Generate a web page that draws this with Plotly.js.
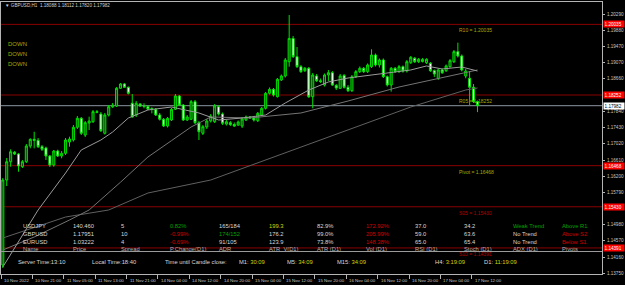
<!DOCTYPE html>
<html><head><meta charset="utf-8">
<script src="https://cdn.plot.ly/plotly-3.0.1.min.js"></script>
<style>html,body{margin:0;padding:0;background:#000;}#chart{width:625px;height:285px;}</style>
</head><body><div id="chart"></div>
<script>
// ---------- DATA ----------
const symbolTitle = "\u25BC GBPUSD,H1  1.18088 1.18112 1.17820 1.17982";
const openP = [1.13960,1.16106,1.16568,1.16805,1.16762,1.16442,1.16568,1.16964,1.17133,1.17108,1.16947,1.16914,1.16712,1.16485,1.16838,1.16712,1.16780,1.17065,1.17116,1.17437,1.17664,1.17242,1.17545,1.17578,1.17831,1.17772,1.17285,1.17747,1.17957,1.17974,1.18421,1.18530,1.18447,1.18043,1.17747,1.18025,1.17974,1.17962,1.17891,1.17891,1.17747,1.17639,1.17469,1.17621,1.17891,1.18227,1.17999,1.17621,1.17639,1.18083,1.17553,1.17285,1.17444,1.17596,1.17578,1.17957,1.17772,1.17520,1.17553,1.17507,1.17495,1.17469,1.17621,1.17697,1.17676,1.17603,1.17747,1.17916,1.18295,1.18396,1.18209,1.18631,1.18732,1.19093,1.19680,1.19219,1.18967,1.18866,1.18926,1.18209,1.18732,1.18613,1.18505,1.18757,1.18815,1.18492,1.18421,1.18745,1.18447,1.18361,1.18714,1.18841,1.18926,1.18841,1.18967,1.19262,1.19010,1.19136,1.18714,1.18505,1.18926,1.18841,1.18967,1.18858,1.19068,1.19179,1.19093,1.19098,1.19068,1.19053,1.18866,1.18674,1.18883,1.18866,1.18967,1.19093,1.19346,1.19237,1.18732,1.18674,1.18447,1.18088];
const highP = [1.16156,1.16661,1.16881,1.16838,1.16788,1.16611,1.17015,1.17159,1.17325,1.17166,1.16990,1.16947,1.16737,1.16864,1.16871,1.16838,1.17166,1.17199,1.17495,1.17722,1.17697,1.17596,1.17705,1.17873,1.17873,1.17823,1.17798,1.17999,1.18050,1.18454,1.18555,1.18555,1.18467,1.18277,1.18101,1.18050,1.18043,1.17999,1.17942,1.17924,1.17798,1.17671,1.17697,1.17924,1.18277,1.18252,1.18025,1.17747,1.18126,1.18126,1.17596,1.17495,1.17646,1.17772,1.18025,1.17987,1.17810,1.17621,1.17596,1.17558,1.17608,1.17697,1.17734,1.17722,1.17709,1.17823,1.17949,1.18328,1.18442,1.18429,1.18681,1.18770,1.19187,1.20272,1.19742,1.19464,1.19010,1.18959,1.18959,1.18808,1.18783,1.18669,1.18795,1.18883,1.18858,1.18530,1.18783,1.18783,1.18505,1.18757,1.18883,1.18972,1.18959,1.19048,1.19406,1.19300,1.19174,1.19174,1.18745,1.18959,1.18959,1.19010,1.18997,1.19136,1.19237,1.19212,1.19187,1.19187,1.19179,1.19085,1.18896,1.18921,1.18921,1.19022,1.19161,1.19388,1.19573,1.19275,1.18908,1.18858,1.18530,1.18112];
const lowP = [1.13884,1.15954,1.16442,1.16737,1.16315,1.16409,1.16535,1.16906,1.16906,1.16914,1.16838,1.16611,1.16434,1.16442,1.16687,1.16654,1.16737,1.16947,1.17078,1.17394,1.17242,1.17192,1.17368,1.17545,1.17790,1.17318,1.17255,1.17709,1.17924,1.17949,1.18404,1.18429,1.18265,1.17671,1.17697,1.17949,1.17916,1.17873,1.17790,1.17722,1.17608,1.17444,1.17432,1.17596,1.17873,1.17974,1.17596,1.17596,1.17621,1.17520,1.17116,1.17242,1.17394,1.17558,1.17545,1.17734,1.17495,1.17482,1.17469,1.17444,1.17469,1.17419,1.17596,1.17646,1.17583,1.17570,1.17722,1.17886,1.18265,1.18214,1.18189,1.18606,1.18694,1.18967,1.19187,1.18934,1.18808,1.18833,1.18176,1.17916,1.18580,1.18555,1.18467,1.18606,1.18480,1.18379,1.18404,1.18416,1.18328,1.18328,1.18681,1.18808,1.18808,1.18808,1.18934,1.18972,1.18947,1.18681,1.18467,1.18336,1.18808,1.18808,1.18815,1.18820,1.19035,1.19060,1.19060,1.19073,1.19035,1.18833,1.18707,1.18631,1.18783,1.18833,1.18947,1.19060,1.19199,1.18846,1.18674,1.17999,1.18050,1.17820];
const closeP = [1.16106,1.16568,1.16821,1.16762,1.16460,1.16568,1.16964,1.17133,1.17108,1.16947,1.16881,1.16712,1.16485,1.16838,1.16712,1.16780,1.17116,1.17141,1.17437,1.17664,1.17285,1.17553,1.17596,1.17831,1.17815,1.17351,1.17747,1.17957,1.17999,1.18421,1.18530,1.18447,1.18295,1.17704,1.18043,1.17974,1.17962,1.17891,1.17911,1.17747,1.17639,1.17469,1.17664,1.17891,1.18227,1.17999,1.17621,1.17697,1.18083,1.17553,1.17326,1.17452,1.17596,1.17722,1.17974,1.17772,1.17538,1.17578,1.17507,1.17469,1.17570,1.17646,1.17697,1.17676,1.17621,1.17790,1.17916,1.18295,1.18396,1.18252,1.18649,1.18732,1.19136,1.19680,1.19219,1.18967,1.18841,1.18926,1.18209,1.18757,1.18613,1.18593,1.18757,1.18815,1.18505,1.18429,1.18732,1.18447,1.18361,1.18714,1.18841,1.18926,1.18841,1.19010,1.19262,1.19010,1.19136,1.18714,1.18505,1.18926,1.18841,1.18967,1.18858,1.19093,1.19204,1.19093,1.19154,1.19149,1.19154,1.18866,1.18783,1.18883,1.18815,1.18985,1.19118,1.19346,1.19237,1.18883,1.18858,1.18447,1.18083,1.17982];

const timeTickBars = [0,8,16,24,32,40,48,56,64,72,80,88,96,104,112,120];
const timeTickLabels = ["10 Nov 2022","10 Nov 21:00","11 Nov 05:00","11 Nov 13:00","11 Nov 21:00","14 Nov 04:00","14 Nov 12:00","14 Nov 20:00","15 Nov 04:00","15 Nov 12:00","15 Nov 20:00","16 Nov 04:00","16 Nov 12:00","16 Nov 20:00","17 Nov 04:00","17 Nov 12:00"];
// visible price-scale labels (1.18250 and 1.15380 sit under the red level boxes)
const priceTicks = [1.20290,1.19880,1.19470,1.19070,1.18660,1.17840,1.17430,1.17020,1.16610,1.16200,1.15790,1.14980,1.14570,1.14160,1.13750];

// moving averages (bar index, price)
const maFastBars = [0,9,16,20,25,28,32,37,43,50,55,61,67,72,78,83,88,104,108,112,117,121];
const maFast = [1.13909,1.15349,1.16283,1.16864,1.17116,1.17318,1.17671,1.17874,1.17949,1.17798,1.17621,1.17671,1.17747,1.18050,1.18378,1.18581,1.18681,1.18884,1.18985,1.18909,1.18959,1.18858];
const maMidBars = [0,8,17,22,30,37,43,48,53,63,76,88,101,121];
const maMid = [1.14339,1.14667,1.15096,1.15349,1.16050,1.16687,1.17100,1.17444,1.17697,1.17672,1.17798,1.18100,1.18454,1.18884];
const maSlowBars = [0,16,27,37,53,70,88,104,118,121];
const maSlow = [1.14642,1.15172,1.15349,1.15778,1.16106,1.16720,1.17369,1.17949,1.18378,1.18429];

const levelNames = ["R10","R05","Pivot","S05","S10"];
const levelValues = [1.20035,1.18252,1.16468,1.15430,1.14391];
const currentPrice = 1.17982;
const signals = ["DOWN","DOWN","DOWN"];

const tableHeader = ["Name","Price","Spread","P.Change(D1)","ADR","ATR_V(D1)","ATR (D1)","Vol (D1)","RSI (D1)","Stoch (D1)","ADX (D1)","Pivots"];
const rowUSDJPY = ["USDJPY","140.460","5","0.82%","165/184","199.3","82.9%","172.92%","37.0","34.2","Weak Trend","Above R1"];
const rowGBPUSD = ["GBPUSD","1.17951","10","-0.99%","174/152","176.2","99.0%","205.99%","59.0","63.6","No Trend","Above S2"];
const rowEURUSD = ["EURUSD","1.03222","4","-0.69%","91/105","123.9","73.8%","148.38%","65.0","65.4","No Trend","Below S1"];
const timerLabels = ["Server Time:","Local Time:","Time until Candle close:","M1:","M5:","M15:","H4:","D1:"];
const timerValues = ["13:10","18:40","","30:09","34:09","34:09","3:19:09","11:19:09"];

// ---------- STYLE / LAYOUT ----------
const W='#d8d8d8', G='#00a000', R='#d00000', Y='#d4d400', H='#b0b0b0', OL='#a8a800';
const rowColors = [
  [W,W,W,G,W,Y,W,R,W,W,G,G],
  [W,W,W,R,G,W,W,R,W,W,W,R],
  [W,W,W,R,W,W,W,R,W,W,W,R]
];
const PL=1, PT=2, PW=601, PH=272;
const px2x = p => (p-PL)/PW;
const py2y = p => (PT+PH-p)/PH;
const FONT = 'Liberation Sans, Arial, sans-serif';

const idx = openP.map((_,i)=>i);
const traces = [
  {type:'scatter', mode:'lines', x:maSlowBars, y:maSlow, line:{color:'#606060', width:1}, hoverinfo:'skip', showlegend:false},
  {type:'scatter', mode:'lines', x:maMidBars, y:maMid, line:{color:'#747474', width:1}, hoverinfo:'skip', showlegend:false},
  {type:'scatter', mode:'lines', x:maFastBars, y:maFast, line:{color:'#9a9a9a', width:1}, hoverinfo:'skip', showlegend:false},
  {type:'candlestick', x:idx, open:openP, high:highP, low:lowP, close:closeP, whiskerwidth:0,
   increasing:{line:{color:'#00e000', width:1}, fillcolor:'#0b4d0b'},
   decreasing:{line:{color:'#00e000', width:1}, fillcolor:'#ffffff'},
   hoverinfo:'skip', showlegend:false}
];

const shapes = [];
const annotations = [];
levelValues.forEach((v,i)=>{
  shapes.push({type:'line', xref:'paper', x0:0, x1:1, yref:'y', y0:v, y1:v, line:{color:'#8a0000', width:1}, layer:'below'});
  annotations.push({xref:'paper', x:1, xanchor:'left', xshift:1, yref:'y', y:v, yanchor:'middle',
    text:v.toFixed(5), showarrow:false, bgcolor:'#ff0000', font:{family:FONT,size:4.6,color:'#ffffff'}, borderpad:0.6, width:19, align:'left'});
  annotations.push({xref:'paper', x:px2x(457), xanchor:'left', yref:'y', y:v, yanchor:'top', yshift:-1,
    text:levelNames[i]+' = '+v.toFixed(5), showarrow:false,
    font:{family:FONT,size:5,color:(levelNames[i][0]==='S')?'#b00000':OL}});
});
shapes.push({type:'line', xref:'paper', x0:0, x1:1, yref:'y', y0:currentPrice, y1:currentPrice, line:{color:'#8c96a0', width:1}, layer:'below'});
annotations.push({xref:'paper', x:1, xanchor:'left', xshift:1, yref:'y', y:currentPrice, yanchor:'middle',
  text:currentPrice.toFixed(5), showarrow:false, bgcolor:'#ffffff', font:{family:FONT,size:4.6,color:'#000000'}, borderpad:0.6, width:19, align:'left'});
// table separator
shapes.push({type:'line', xref:'paper', x0:0, x1:1, yref:'paper', y0:py2y(251.5), y1:py2y(251.5), line:{color:'#9a9a9a', width:1}});

// x tick labels
timeTickBars.forEach((b,i)=>{
  annotations.push({xref:'x', x:b-0.45, xanchor:'left', xshift:1, yref:'paper', y:0, yanchor:'top', yshift:-2,
    text:timeTickLabels[i], showarrow:false, font:{family:FONT,size:4.4,color:'#c8c8c8'}});
});
// title
annotations.push({xref:'paper', x:px2x(3), xanchor:'left', yref:'paper', y:py2y(5.3), yanchor:'middle',
  text:symbolTitle, showarrow:false, font:{family:FONT,size:4.6,color:'#d0d0d0'}});
// DOWN signals
const downY=[44.3,54.3,64];
signals.forEach((s,i)=>annotations.push({xref:'paper', x:px2x(6), xanchor:'left', yref:'paper', y:py2y(downY[i]), yanchor:'middle',
  text:s, showarrow:false, font:{family:FONT,size:6,color:OL}}));
// table
const colX=[21,70.5,119,168,217,266.5,315,364,413,462,511,560];
const rowY=[226.3,233.8,241.5,249];
[rowUSDJPY,rowGBPUSD,rowEURUSD].forEach((row,r)=>row.forEach((t,c)=>annotations.push({xref:'paper', x:px2x(colX[c]), xanchor:'left', yref:'paper', y:py2y(rowY[r]), yanchor:'middle',
  text:t, showarrow:false, font:{family:FONT,size:5.8,color:rowColors[r][c]}})));
tableHeader.forEach((t,c)=>annotations.push({xref:'paper', x:px2x(colX[c]), xanchor:'left', yref:'paper', y:py2y(rowY[3]), yanchor:'middle',
  text:t, showarrow:false, font:{family:FONT,size:5.8,color:H}}));
// timers
const timerX=[16,90,163,237,285,335,433,482];
timerLabels.forEach((l,i)=>annotations.push({xref:'paper', x:px2x(timerX[i]), xanchor:'left', yref:'paper', y:py2y(261.5), yanchor:'middle',
  text: l + (timerValues[i] ? (i<2 ? timerValues[i] : ' <span style="color:'+Y+'">'+timerValues[i]+'</span>') : ''),
  showarrow:false, font:{family:FONT,size:5.8,color:W}}));

const layout = {
  width:625, height:285, paper_bgcolor:'#000000', plot_bgcolor:'#000000',
  margin:{l:PL, r:625-PL-PW, t:PT, b:285-PT-PH, pad:0},
  showlegend:false, boxgap:0.25, dragmode:false,
  font:{family:FONT, color:'#c8c8c8'},
  xaxis:{range:[-0.46,152.74], showgrid:false, zeroline:false, rangeslider:{visible:false},
    tickvals:timeTickBars.map(b=>b-0.45), ticktext:timeTickLabels.map(()=>''), ticks:'outside', ticklen:4, tickcolor:'#b4b4b4',
    showline:true, linecolor:'#b4b4b4', linewidth:1, mirror:true, fixedrange:true},
  yaxis:{side:'right', range:[1.13733,1.20600], showgrid:false, zeroline:false,
    tickvals:priceTicks, ticktext:priceTicks.map(v=>v.toFixed(5)), ticks:'outside', ticklen:2, tickcolor:'#b4b4b4',
    tickfont:{family:FONT,size:4.6,color:'#c8c8c8'}, ticklabelstandoff:1,
    showline:true, linecolor:'#b4b4b4', linewidth:1, mirror:true, fixedrange:true},
  shapes:shapes, annotations:annotations
};
Plotly.newPlot('chart', traces, layout, {staticPlot:true, displayModeBar:false});
</script></body></html>
